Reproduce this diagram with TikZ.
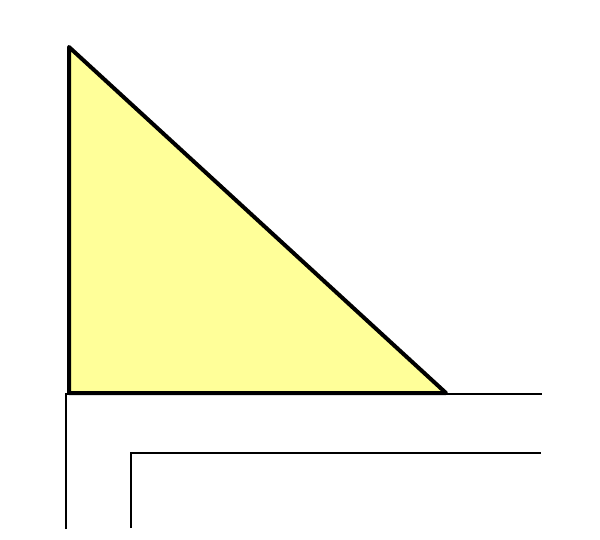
\documentclass[tikz,border=0pt]{standalone}
\definecolor{paleyellow}{RGB}{255,255,153}
\begin{document}
\begin{tikzpicture}[x=1pt, y=-1pt,
    wall/.style={draw=black, line width=2.8pt},
    wedge/.style={draw=black, fill=paleyellow, line width=4pt, line join=round}]
    \useasboundingbox (0, 0) rectangle (600, 539);
    \coordinate (top) at (69, 47);
    \coordinate (corner) at (69, 393);
    \coordinate (tip) at (446, 393);
    \coordinate (outerL) at (66, 529);
    \coordinate (outerC) at (66, 394);
    \coordinate (outerR) at (542, 394);
    \coordinate (innerL) at (131, 528);
    \coordinate (innerC) at (131, 453);
    \coordinate (innerR) at (541, 453);

    \path[wedge] (top) -- (corner) -- (tip) -- cycle;
    \draw[wall] (outerL) -- (outerC) -- (outerR);
    \draw[wall] (innerL) -- (innerC) -- (innerR);
\end{tikzpicture}
\end{document}
